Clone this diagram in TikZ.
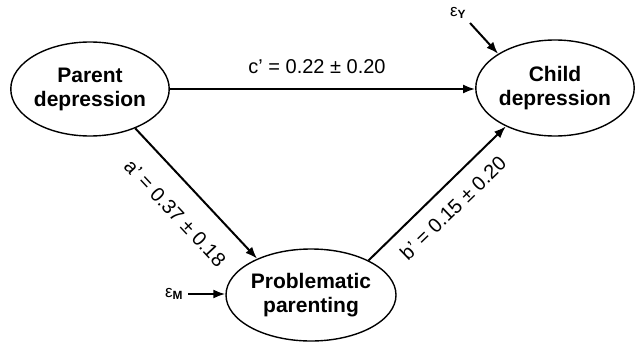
\documentclass[tikz,border=0pt]{standalone}
\usepackage{fontspec}
\setmainfont{Liberation Sans}
\usetikzlibrary{arrows.meta,shapes.geometric}
\begin{document}
\begin{tikzpicture}[x=1pt,y=-1pt,
  var/.style={ellipse,draw,line width=1.4pt,minimum width=150pt,minimum height=94pt,inner sep=0pt,align=center,
    font=\fontsize{21}{24}\selectfont\bfseries},
  path/.style={line width=2pt,-{Latex[length=12pt,width=9pt]}},
  lbl/.style={font=\fontsize{20}{24}\selectfont,inner sep=0pt},
  err/.style={font=\fontsize{17}{20}\selectfont,inner sep=0pt}]
\useasboundingbox (0,0) rectangle (636,345);
\node[var] (p) at (90,89) {Parent\\depression};
\node[var,minimum height=96pt] (c) at (555,88) {Child\\depression};
\node[var,minimum height=92pt] (m) at (311,295) {Problematic\\parenting};
\draw[path] (p.east) -- (c.west |- p.east);
\draw[path] (p.-41) -- (m.146);
\draw[path] (m.31) -- (c.-142);
\node[lbl] (lc) at (317,67) {c’ = 0.22 ± 0.20};
\node[lbl,rotate=-47] (la) at (175,213) {a’ = 0.37 ± 0.18};
\node[lbl,rotate=44] (lb) at (453,208) {b’ = 0.15 ± 0.20};
\node[err] (ey) at (458,13) {ε\textsubscript{\textbf{Y}}};
\coordinate (eys) at (470,23);
\draw[path] (eys) -- (c.149);
\node[err] (em) at (174,294) {ε\textsubscript{\textbf{M}}};
\coordinate (ems) at (188,294);
\draw[path] (ems) -- (m.west |- ems);
\end{tikzpicture}
\end{document}
